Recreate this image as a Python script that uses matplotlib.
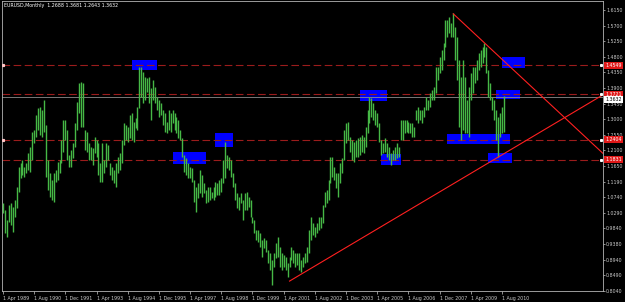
import numpy as np
import matplotlib
matplotlib.use('Agg')
import matplotlib.pyplot as plt
import matplotlib.transforms as mtransforms
from matplotlib.patches import Rectangle

plt.rcParams['lines.scale_dashes'] = False

# EURUSD monthly bars, Apr 1989 .. Sep 2010 (highs / lows)
highs = [
    1.058, 1.037, 1.009, 1.052, 1.058, 1.046, 1.066, 1.104, 1.162, 1.173,
    1.182, 1.162, 1.173, 1.202, 1.219, 1.263, 1.268, 1.312, 1.332, 1.335,
    1.326, 1.355, 1.283, 1.182, 1.144, 1.124, 1.144, 1.153, 1.176, 1.182,
    1.240, 1.297, 1.297, 1.268, 1.196, 1.211, 1.231, 1.289, 1.349, 1.404,
    1.407, 1.404, 1.268, 1.263, 1.231, 1.219, 1.216, 1.248, 1.240, 1.231,
    1.173,
    1.231, 1.182, 1.231, 1.225, 1.173, 1.162, 1.153, 1.173, 1.190, 1.202,
    1.240, 1.289, 1.283, 1.277, 1.312, 1.318, 1.292, 1.303, 1.335, 1.450,
    1.450, 1.436, 1.422, 1.419, 1.422, 1.390, 1.413, 1.393, 1.364, 1.355,
    1.346, 1.326, 1.318, 1.292, 1.326, 1.318, 1.326, 1.318, 1.306, 1.297,
    1.268, 1.245, 1.196, 1.188, 1.173, 1.162, 1.159, 1.124, 1.104, 1.115,
    1.153, 1.138, 1.115, 1.095,
    1.104, 1.104, 1.089, 1.104, 1.118, 1.115, 1.124, 1.130, 1.182, 1.234,
    1.196, 1.190, 1.182, 1.144, 1.115, 1.086, 1.075, 1.086, 1.066, 1.086,
    1.089, 1.075, 1.066, 1.017, 1.009, 0.980, 0.980, 0.971, 0.951, 0.957,
    0.951, 0.922, 0.913, 0.893, 0.913, 0.942, 0.959, 0.930, 0.913, 0.907,
    0.902, 0.884, 0.902, 0.930, 0.922, 0.913, 0.913, 0.913, 0.893, 0.902,
    0.913,
    0.930, 0.980, 1.017, 1.000, 0.988, 1.000, 1.017, 1.017, 1.052, 1.089,
    1.095, 1.124, 1.190, 1.190, 1.162, 1.144, 1.144, 1.173, 1.188, 1.268,
    1.289, 1.292, 1.248, 1.240, 1.234, 1.240, 1.245, 1.248, 1.254, 1.248,
    1.277, 1.326, 1.364, 1.361, 1.346, 1.326, 1.318, 1.289, 1.240, 1.231,
    1.245, 1.231, 1.219, 1.202, 1.211, 1.219, 1.231, 1.219, 1.297,
    1.297, 1.297, 1.297, 1.292, 1.289, 1.289, 1.277, 1.326, 1.335, 1.326,
    1.326, 1.335, 1.364, 1.355, 1.375, 1.384, 1.393, 1.450, 1.450, 1.479,
    1.500, 1.520, 1.586, 1.586, 1.595, 1.577, 1.606, 1.566, 1.537, 1.471,
    1.422, 1.471, 1.422, 1.355, 1.393, 1.433, 1.450, 1.450, 1.471, 1.491,
    1.500, 1.508, 1.520, 1.508, 1.442, 1.404, 1.364, 1.355, 1.326, 1.306,
    1.318, 1.335, 1.368,
]
lows = [
    1.029, 0.971, 0.959, 1.003, 0.994, 0.974, 1.017, 1.043, 1.089, 1.130,
    1.138, 1.133, 1.144, 1.153, 1.147, 1.182, 1.231, 1.248, 1.268, 1.254,
    1.248, 1.263, 1.133, 1.095, 1.075, 1.066, 1.060, 1.118, 1.124, 1.144,
    1.173, 1.205, 1.240, 1.182, 1.162, 1.162, 1.188, 1.219, 1.268, 1.318,
    1.277, 1.277, 1.211, 1.205, 1.182, 1.182, 1.167, 1.202, 1.190, 1.138,
    1.118,
    1.118, 1.144, 1.162, 1.182, 1.138, 1.124, 1.115, 1.104, 1.144, 1.153,
    1.173, 1.225, 1.240, 1.234, 1.245, 1.240, 1.234, 1.274, 1.268, 1.332,
    1.364, 1.346, 1.355, 1.378, 1.346, 1.297, 1.355, 1.346, 1.326, 1.306,
    1.312, 1.283, 1.263, 1.260, 1.268, 1.263, 1.289, 1.268, 1.260, 1.245,
    1.240, 1.190, 1.147, 1.138, 1.130, 1.130, 1.118, 1.060, 1.032, 1.072,
    1.086, 1.075, 1.086, 1.058,
    1.060, 1.066, 1.072, 1.066, 1.075, 1.081, 1.081, 1.089, 1.115, 1.130,
    1.159, 1.153, 1.133, 1.104, 1.066, 1.043, 1.037, 1.058, 1.009, 1.037,
    1.037, 1.046, 1.017, 1.000, 0.971, 0.951, 0.945, 0.930, 0.902, 0.928,
    0.916, 0.884, 0.864, 0.821, 0.873, 0.899, 0.902, 0.873, 0.864, 0.873,
    0.864, 0.844, 0.873, 0.893, 0.884, 0.873, 0.878, 0.864, 0.858, 0.873,
    0.884,
    0.887, 0.913, 0.951, 0.965, 0.959, 0.971, 0.980, 0.985, 1.000, 1.046,
    1.058, 1.066, 1.115, 1.133, 1.124, 1.101, 1.075, 1.115, 1.144, 1.182,
    1.231, 1.240, 1.205, 1.182, 1.176, 1.190, 1.190, 1.196, 1.205, 1.202,
    1.219, 1.260, 1.289, 1.306, 1.297, 1.283, 1.277, 1.234, 1.196, 1.202,
    1.205, 1.190, 1.182, 1.167, 1.182, 1.182, 1.188, 1.190, 1.240,
    1.240, 1.260, 1.263, 1.260, 1.260, 1.248, 1.248, 1.297, 1.289, 1.297,
    1.289, 1.306, 1.326, 1.326, 1.335, 1.355, 1.355, 1.375, 1.413, 1.433,
    1.442, 1.471, 1.508, 1.537, 1.549, 1.537, 1.537, 1.471, 1.413, 1.277,
    1.240, 1.268, 1.260, 1.260, 1.248, 1.355, 1.375, 1.404, 1.413, 1.442,
    1.450, 1.462, 1.479, 1.433, 1.364, 1.355, 1.326, 1.297, 1.240, 1.190,
    1.248, 1.260, 1.264,
]

title = 'EURUSD,Monthly  1.2688 1.3681 1.2643 1.3632'

x_labels = ['1 Apr 1989', '1 Aug 1990', '1 Dec 1991', '1 Apr 1993', '1 Aug 1994',
            '1 Dec 1995', '1 Apr 1997', '1 Aug 1998', '1 Dec 1999', '1 Apr 2001',
            '1 Aug 2002', '1 Dec 2003', '1 Apr 2005', '1 Aug 2006', '1 Dec 2007',
            '1 Apr 2009', '1 Aug 2010']
y_labels = ['1.6150', '1.5700', '1.5250', '1.4800', '1.4350', '1.3900', '1.3450',
            '1.3000', '1.2550', '1.2100', '1.1650', '1.1190', '1.0740', '1.0290',
            '0.9840', '0.9380', '0.8940', '0.8490', '0.8040']

# horizontal levels and the current bid
levels = [1.4549, 1.3721, 1.2404, 1.1831]
bid = 1.3632

# trend rays: two anchors (month index, price)
trend_up = [(147, 0.832), (254, 1.190)]
trend_down = [(231, 1.604), (247, 1.520)]

# blue zones: month from, month to, price low, price high
zones = [(66, 79, 1.442, 1.471),
         (87, 104, 1.170, 1.205),
         (109, 118, 1.219, 1.260),
         (183, 197, 1.352, 1.384),
         (194, 204, 1.167, 1.199),
         (228, 260, 1.228, 1.257),
         (249, 261, 1.173, 1.202),
         (253, 265, 1.358, 1.384),
         (256, 268, 1.448, 1.479)]

GREEN = '#46b846'
FG = '#c8c8c8'

fig = plt.figure(figsize=(6.25, 3.02), dpi=100, facecolor='black')
ax = fig.add_axes([2 / 625, 11 / 302, 601 / 625, 290 / 302])
ax.set_facecolor('black')

x = np.arange(len(highs))
ax.set_xlim(-0.5, 307.8)
ax.set_ylim(0.8034, 1.6410)

for m0, m1, p0, p1 in zones:
    ax.add_patch(Rectangle((m0, p0), m1 - m0, p1 - p0, fc='#0000ff', ec='none', zorder=1))

ax.vlines(x, lows, highs, color=GREEN, lw=1.0, zorder=3)

for v in levels:
    ax.axhline(v, color='#9b1c1c', lw=0.8, dashes=(5.5, 2.5), zorder=2)
ax.axhline(bid, color='#8c8c8c', lw=0.6, zorder=2)

xmax = ax.get_xlim()[1]
for (a, b) in (trend_up, trend_down):
    slope = (b[1] - a[1]) / (b[0] - a[0])
    xs = np.array([a[0], xmax])
    ax.plot(xs, a[1] + slope * (xs - a[0]), color='#ff2020', lw=0.8, zorder=4)

# little anchor squares on the level lines
ax.plot([0, 0], [levels[0], levels[2]], 's', color='#ffc8c8', ms=1.3, zorder=5)
ax.plot([xmax - 0.8] * len(levels), levels, 's', color='white', ms=1.2, zorder=5, clip_on=False)

ax.set_xticks(np.arange(0, 257, 16))
ax.set_xticklabels(x_labels)
for lab in ax.get_xticklabels():
    lab.set_ha('left')
ax.set_yticks(np.linspace(1.6150, 0.8040, 19))
ax.set_yticklabels(y_labels)
ax.yaxis.tick_right()

ax.tick_params(axis='x', colors=FG, length=2.5, width=0.5, pad=0.8, labelsize=3.4)
ax.tick_params(axis='y', colors=FG, length=1.5, width=0.5, pad=0.8, labelsize=3.4)
for s in ax.spines.values():
    s.set_color('#b4b4b4')
    s.set_linewidth(0.6)

trans = mtransforms.blended_transform_factory(ax.transAxes, ax.transData)
for v in levels:
    ax.text(1.004, v, f'{v:.4f}', transform=trans, fontsize=3.4, color='white',
            va='center', ha='left', zorder=6,
            bbox=dict(boxstyle='square,pad=0.2', fc='#e01818', ec='none'))
# bid label sits just under the line, as in the terminal
ax.text(1.004, bid, f'{bid:.4f}', transform=trans, fontsize=3.4, color='black',
        va='top', ha='left', zorder=7,
        bbox=dict(boxstyle='square,pad=0.2', fc='white', ec='none'))

ax.text(0.004, 0.993, title, transform=ax.transAxes, fontsize=3.4, color='white',
        va='top', ha='left')

fig.savefig('out.png', dpi=100, facecolor='black')
